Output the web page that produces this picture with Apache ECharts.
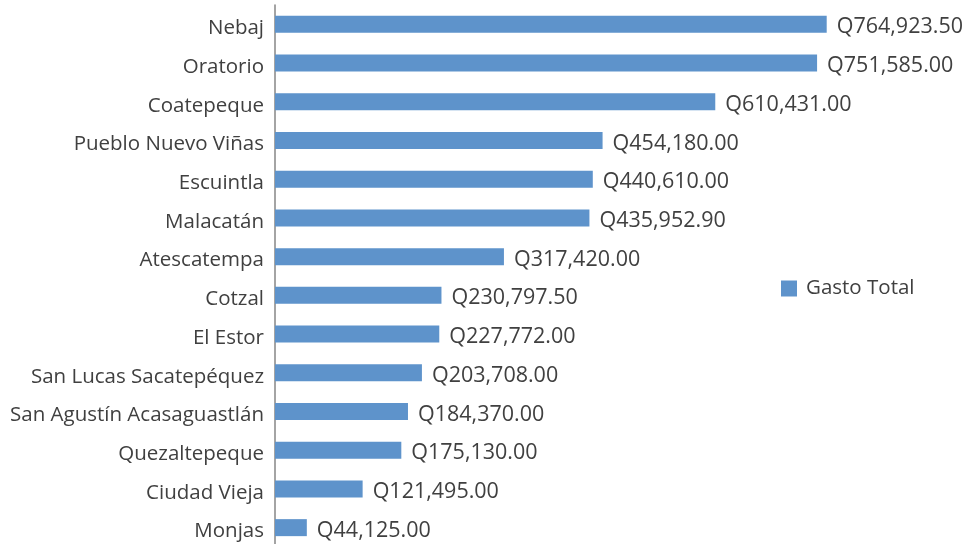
<!DOCTYPE html>
<html>
<head>
    <meta charset="utf-8">
    <title>Gasto Total</title>
    <script src="https://cdn.jsdelivr.net/npm/echarts@6/dist/echarts.min.js"></script>
    <style>
        body { margin: 0; background: #fff; }
    </style>
</head>
<body>
<div id="main" style="width: 967px;height:544px;"></div>
<script>
    // datos
    var municipios = ['Nebaj', 'Oratorio', 'Coatepeque', 'Pueblo Nuevo Viñas', 'Escuintla', 'Malacatán',
        'Atescatempa', 'Cotzal', 'El Estor', 'San Lucas Sacatepéquez', 'San Agustín Acasaguastlán',
        'Quezaltepeque', 'Ciudad Vieja', 'Monjas'];
    var gastoTotal = [764923.50, 751585.00, 610431.00, 454180.00, 440610.00, 435952.90,
        317420.00, 230797.50, 227772.00, 203708.00, 184370.00, 175130.00, 121495.00, 44125.00];

    function formatoQ(v) {
        return 'Q' + v.toLocaleString('en-US', {minimumFractionDigits: 2, maximumFractionDigits: 2});
    }

    var fuente = '"Open Sans", "Noto Sans", sans-serif';
    var myChart = echarts.init(document.getElementById('main'));
    var option = {
        animation: false,
        textStyle: { fontFamily: fuente },
        legend: {
            orient: 'vertical',
            left: 781,
            top: 278,
            padding: 0,
            icon: 'rect',
            itemWidth: 16,
            itemHeight: 16,
            itemGap: 8,
            textStyle: { fontSize: 20.5, color: '#404040', fontFamily: fuente, padding: [0, 0, 0, 4] },
            data: ['Gasto Total']
        },
        grid: { left: 275, width: 577, top: 5, height: 542, containLabel: false, outerBoundsMode: 'none' },
        xAxis: {
            type: 'value',
            min: 0,
            max: 800000,
            show: false
        },
        yAxis: {
            type: 'category',
            inverse: true,
            data: municipios,
            axisLine: { show: true, lineStyle: { color: '#868686', width: 1.5 } },
            axisTick: { show: false },
            axisLabel: {
                color: '#404040', margin: 11,
                formatter: function (v) { return '{n|' + v + '}'; },
                rich: { n: { fontSize: 20.5, color: '#404040', fontFamily: fuente, padding: [8, 0, 0, 0] } }
            }
        },
        series: [{
            name: 'Gasto Total',
            type: 'bar',
            data: gastoTotal,
            barWidth: 17,
            itemStyle: { color: '#5e93cb' },
            label: {
                show: true,
                position: 'right',
                distance: 10,
                offset: [0, 3],
                fontSize: 21.5,
                color: '#404040',
                fontFamily: fuente,
                formatter: function (p) { return formatoQ(p.value); }
            }
        }]
    };
    myChart.setOption(option);
</script>
</body>
</html>
